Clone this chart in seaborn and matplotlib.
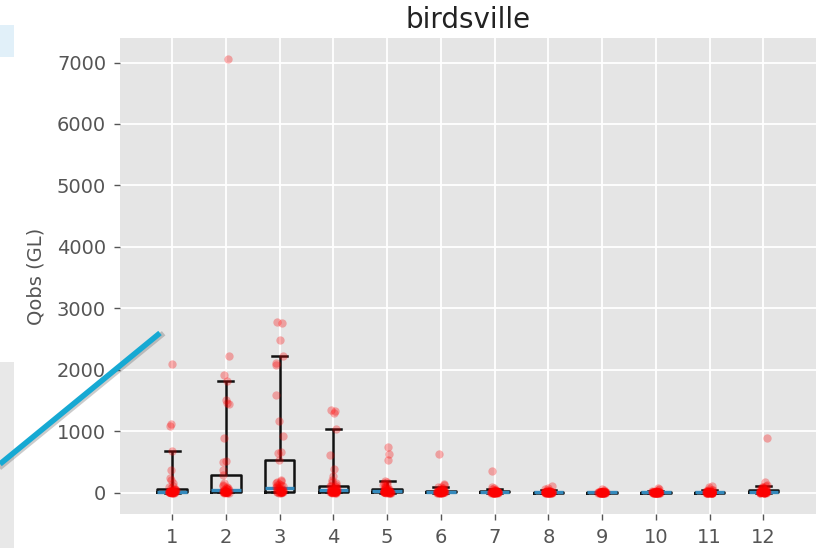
import numpy as np
import pandas as pd
import matplotlib
matplotlib.use("Agg")
import matplotlib.pyplot as plt
import seaborn as sns
from matplotlib.lines import Line2D
from matplotlib.patches import Rectangle

# Monthly observed flow (GL) at Birdsville, one value per year
q_jan = [0, 0, 0, 0, 1, 1, 1, 2, 2, 2, 3, 3, 4, 5, 6, 7, 8, 9, 10, 11, 12, 14, 15,
         17, 19, 21, 24, 27, 30, 34, 38, 43, 48, 55, 68, 85, 110, 150, 205, 235, 360,
         670, 1090, 1110, 2095]
q_feb = [0, 0, 0, 1, 1, 1, 2, 2, 3, 3, 4, 5, 6, 8, 10, 12, 14, 17, 20, 24, 28, 32, 37,
         42, 48, 55, 62, 70, 80, 90, 105, 120, 150, 290, 362, 500, 520, 890, 1445, 1460,
         1510, 1813, 1915, 2225, 7050]
q_mar = [0, 0, 1, 1, 2, 2, 3, 4, 5, 6, 8, 10, 14, 18, 22, 28, 34, 40, 46, 52, 58, 66, 75,
         85, 95, 105, 118, 130, 145, 160, 175, 190, 200, 535, 645, 660, 920, 1160, 1580,
         2080, 2110, 2215, 2475, 2760, 2780]
q_apr = [0, 0, 0, 1, 1, 1, 2, 2, 3, 3, 4, 4, 6, 8, 10, 12, 15, 18, 21, 24, 28, 31, 35,
         40, 45, 50, 56, 62, 70, 78, 86, 95, 102, 110, 130, 150, 175, 210, 275, 390, 615,
         1035, 1300, 1330, 1350]
q_may = [0, 0, 0, 0, 0, 1, 1, 1, 1, 2, 2, 2, 3, 4, 5, 6, 8, 10, 12, 14, 16, 18, 20,
         23, 26, 29, 33, 37, 42, 47, 52, 57, 61, 65, 75, 85, 100, 115, 130, 150, 170,
         185, 535, 620, 745]
q_jun = [0, 0, 0, 0, 0, 0, 0, 1, 1, 1, 1, 1, 2, 2, 3, 3, 4, 4, 5, 5, 6, 7, 8,
         9, 10, 11, 13, 15, 17, 19, 22, 25, 27, 30, 35, 40, 47, 55, 62, 70, 82,
         95, 120, 140, 635]
q_jul = [0, 0, 0, 0, 0, 0, 0, 0, 0, 0, 0, 1, 1, 1, 1, 2, 2, 2, 3, 3, 3, 4, 4,
         5, 5, 6, 7, 8, 9, 10, 12, 14, 16, 18, 20, 23, 27, 31, 36, 42, 48,
         55, 70, 85, 345]
q_aug = [0, 0, 0, 0, 0, 0, 0, 0, 0, 0, 0, 0, 0, 0, 1, 1, 1, 1, 1, 2, 2, 2, 2,
         3, 3, 3, 4, 4, 5, 5, 6, 7, 8, 10, 11, 13, 15, 18, 21, 25, 30,
         35, 60, 80, 110]
q_sep = [0, 0, 0, 0, 0, 0, 0, 0, 0, 0, 0, 0, 0, 0, 0, 0, 0, 1, 1, 1, 1, 1, 1,
         1, 1, 2, 2, 2, 2, 3, 3, 4, 4, 5, 6, 6, 7, 8, 10, 11, 13,
         15, 25, 40, 60]
q_oct = [0, 0, 0, 0, 0, 0, 0, 0, 0, 0, 0, 0, 0, 0, 0, 0, 0, 1, 1, 1, 1, 1, 1,
         1, 2, 2, 2, 3, 3, 3, 4, 4, 4, 5, 6, 7, 8, 10, 12, 14, 17,
         20, 35, 50, 75]
q_nov = [0, 0, 0, 0, 0, 0, 0, 0, 0, 0, 0, 0, 0, 0, 0, 1, 1, 1, 1, 1, 2, 2, 2,
         2, 3, 3, 4, 5, 6, 7, 8, 9, 10, 14, 16, 18, 21, 24, 27, 30, 34,
         38, 60, 85, 110]
q_dec = [0, 0, 0, 0, 0, 0, 0, 1, 1, 1, 1, 1, 2, 2, 3, 3, 4, 4, 5, 5, 6, 7, 8,
         10, 12, 14, 16, 19, 22, 26, 30, 35, 40, 45, 50, 56, 62, 70, 78, 88, 96,
         105, 130, 175, 890]

months = [1, 2, 3, 4, 5, 6, 7, 8, 9, 10, 11, 12]
month_values = [q_jan, q_feb, q_mar, q_apr, q_may, q_jun,
                q_jul, q_aug, q_sep, q_oct, q_nov, q_dec]
yticks = [0, 1000, 2000, 3000, 4000, 5000, 6000, 7000]
title = "birdsville"
ylabel = "Qobs (GL)"

rows = []
for m, vals in zip(months, month_values):
    for v in vals:
        rows.append((m, v))
df = pd.DataFrame(rows, columns=["month", "Qobs"])

plt.style.use("ggplot")
plt.rcParams["font.family"] = ["DejaVu Sans"]
np.random.seed(3)

W, H = 821.0, 548.0
fig = plt.figure(figsize=(8.21, 5.48), dpi=100)
ax = fig.add_axes([120 / W, (H - 514) / H, (816 - 120) / W, (514 - 38) / H])
ax.set_facecolor("#E5E5E5")

sns.boxplot(data=df, x="month", y="Qobs", native_scale=True, whis=(5, 95),
            showfliers=False, width=0.55, fill=False, color="#111111",
            linewidth=1.8,
            medianprops={"color": "#348ABD", "linewidth": 2.4},
            whiskerprops={"color": "#111111", "linewidth": 1.8},
            capprops={"color": "#111111", "linewidth": 1.8},
            boxprops={"color": "#111111", "linewidth": 1.8},
            ax=ax)
sns.stripplot(data=df, x="month", y="Qobs", native_scale=True, color="red",
              alpha=0.3, size=6, jitter=0.07, linewidth=0, zorder=4, ax=ax)

ax.set_xlim(0.03, 12.98)
ax.set_ylim(-350, 7400)
ax.set_xticks(months)
ax.set_xticklabels([str(m) for m in months])
ax.set_yticks(yticks)
ax.set_yticklabels([str(t) for t in yticks])
ax.grid(True, color="white", linewidth=1.3)
ax.set_axisbelow(True)
ax.tick_params(axis="both", labelsize=14, colors="#555555", direction="out",
               length=4, width=1, pad=6)
ax.set_xlabel("")
ax.set_ylabel(ylabel, fontsize=14, color="#555555", labelpad=8)
ax.set_title(title, fontsize=20, color="#222222", pad=7)
for s in ax.spines.values():
    s.set_visible(False)

# presentation overlay elements around the chart
fig.add_artist(Rectangle((0, 1 - 57 / H), 14 / W, 32 / H, transform=fig.transFigure,
                         facecolor="#E1F0F9", edgecolor="none", zorder=0))
fig.add_artist(Rectangle((0, 0), 14 / W, (H - 362) / H, transform=fig.transFigure,
                         facecolor="#E8E8E8", edgecolor="none", zorder=0))
fig.add_artist(Line2D([0 / W + 1.5 / W, 160 / W + 1.5 / W],
                      [1 - 464 / H - 2 / H, 1 - 333 / H - 2 / H],
                      transform=fig.transFigure, color="#555555", alpha=0.3,
                      linewidth=4, zorder=9))
fig.add_artist(Line2D([0, 160 / W], [1 - 464 / H, 1 - 333 / H],
                      transform=fig.transFigure, color="#16A9D3", linewidth=4,
                      solid_capstyle="butt", zorder=10))

fig.savefig("out.png", dpi=100)
